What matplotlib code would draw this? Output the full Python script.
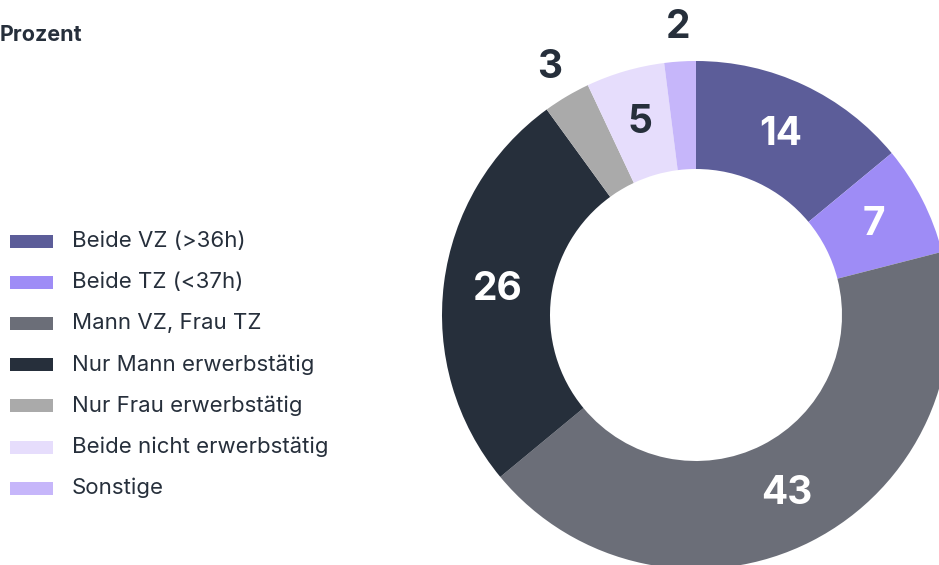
import matplotlib.pyplot as plt
import numpy as np

W, H = 939, 565

categories = [
    "Beide VZ (>36h)",
    "Beide TZ (<37h)",
    "Mann VZ, Frau TZ",
    "Nur Mann erwerbstätig",
    "Nur Frau erwerbstätig",
    "Beide nicht erwerbstätig",
    "Sonstige",
]
values = [14, 7, 43, 26, 3, 5, 2]
colors = ["#5c5d99", "#9e8cf6", "#6b6e78", "#262f3b", "#aaaaaa", "#e6ddfc", "#c6b6fa"]
label_colors = ["white", "white", "white", "white", "#262f3b", "#262f3b", "#262f3b"]
unit_label = "Prozent"

DARK = "#262f3b"
FONT = ["Inter", "DejaVu Sans"]
plt.rcParams["font.family"] = FONT

fig = plt.figure(figsize=(W / 100, H / 100), dpi=100)
ax = fig.add_axes([0, 0, 1, 1])

# donut, geometry in pixels (y from bottom)
cx, cy = 696, H - 315
r_out, r_in = 254, 146
ax.pie(values, colors=colors, startangle=90, counterclock=False,
       radius=r_out, center=(cx, cy), frame=True,
       wedgeprops=dict(width=r_out - r_in, edgecolor="none", linewidth=0))

total = sum(values)
cum = np.cumsum([0] + values)
for i, v in enumerate(values):
    mid = (cum[i] + v / 2) / total * 360
    theta = np.deg2rad(90 - mid)
    r = 288 if v < 4 else (r_out + r_in) / 2
    ax.text(cx + r * np.cos(theta), cy + r * np.sin(theta), str(v),
            ha="center", va="center", fontsize=28, fontweight="bold",
            color=label_colors[i] if v >= 4 else DARK)

# legend drawn by hand
for i, (name, col) in enumerate(zip(categories, colors)):
    y = H - (241 + i * 41.2)
    ax.add_patch(plt.Rectangle((10, y - 6.5), 43, 13, color=col, lw=0))
    ax.text(72, y, name, ha="left", va="center", fontsize=16, color=DARK)

ax.text(0, H - 35, unit_label, ha="left", va="center", fontsize=15.5,
        fontweight="bold", color=DARK)

ax.set_xlim(0, W)
ax.set_ylim(0, H)
ax.set_aspect("auto")
ax.axis("off")

fig.savefig("out.png", dpi=100)
